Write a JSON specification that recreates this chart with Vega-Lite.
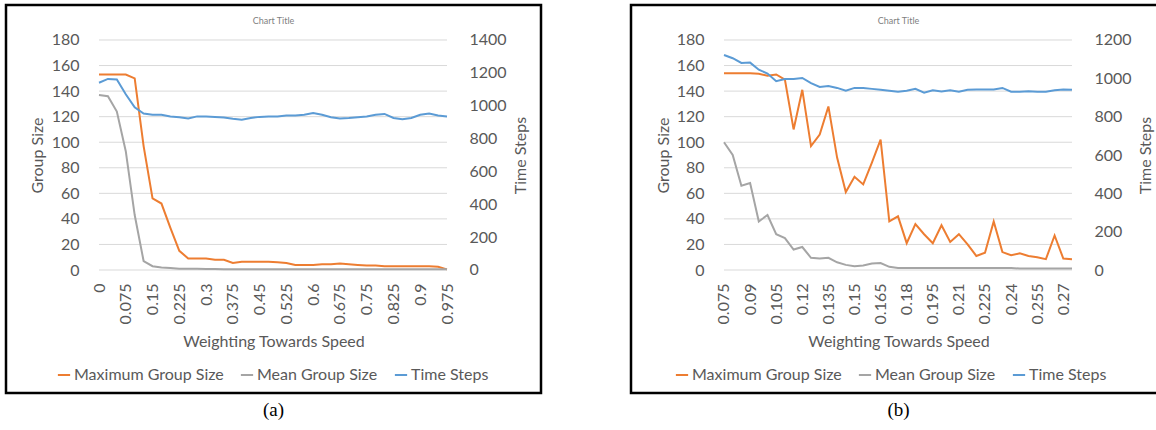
{
  "$schema": "https://vega.github.io/schema/vega-lite/v6.json",
  "background": "white",
  "padding": {"left": 4, "top": 3, "right": 0, "bottom": 0},
  "spacing": 86,
  "config": {
    "font": "Lato",
    "view": {"stroke": "#000000", "strokeWidth": 2.5},
    "axis": {"labelFont": "Lato", "titleFont": "Lato", "labelFontSize": 16, "titleFontSize": 16, "labelColor": "#595959", "titleColor": "#595959", "titleFontWeight": "normal", "grid": false, "domain": false, "ticks": false, "tickSize": 0, "labelPadding": 5},
    "legend": {"labelFont": "Lato", "labelFontSize": 16, "labelColor": "#595959", "padding": 0}
  },
  "datasets": {
    "a": [
      {"w": 0, "Maximum Group Size": 153, "Mean Group Size": 137, "Time Steps": 1140},
      {"w": 0.025, "Maximum Group Size": 153, "Mean Group Size": 136, "Time Steps": 1163},
      {"w": 0.05, "Maximum Group Size": 153, "Mean Group Size": 124, "Time Steps": 1160},
      {"w": 0.075, "Maximum Group Size": 153, "Mean Group Size": 93, "Time Steps": 1070},
      {"w": 0.1, "Maximum Group Size": 150, "Mean Group Size": 43, "Time Steps": 990},
      {"w": 0.125, "Maximum Group Size": 97, "Mean Group Size": 7, "Time Steps": 952},
      {"w": 0.15, "Maximum Group Size": 56, "Mean Group Size": 3, "Time Steps": 945},
      {"w": 0.175, "Maximum Group Size": 52, "Mean Group Size": 2, "Time Steps": 945},
      {"w": 0.2, "Maximum Group Size": 33, "Mean Group Size": 1.5, "Time Steps": 935},
      {"w": 0.225, "Maximum Group Size": 15, "Mean Group Size": 1, "Time Steps": 930},
      {"w": 0.25, "Maximum Group Size": 9, "Mean Group Size": 1, "Time Steps": 922},
      {"w": 0.275, "Maximum Group Size": 9, "Mean Group Size": 1, "Time Steps": 935},
      {"w": 0.3, "Maximum Group Size": 9, "Mean Group Size": 0.8, "Time Steps": 935},
      {"w": 0.325, "Maximum Group Size": 8, "Mean Group Size": 0.8, "Time Steps": 932},
      {"w": 0.35, "Maximum Group Size": 8, "Mean Group Size": 0.6, "Time Steps": 928},
      {"w": 0.375, "Maximum Group Size": 5.5, "Mean Group Size": 0.6, "Time Steps": 920},
      {"w": 0.4, "Maximum Group Size": 6.5, "Mean Group Size": 0.5, "Time Steps": 915},
      {"w": 0.425, "Maximum Group Size": 6.5, "Mean Group Size": 0.5, "Time Steps": 925},
      {"w": 0.45, "Maximum Group Size": 6.5, "Mean Group Size": 0.5, "Time Steps": 932},
      {"w": 0.475, "Maximum Group Size": 6.5, "Mean Group Size": 0.5, "Time Steps": 935},
      {"w": 0.5, "Maximum Group Size": 6, "Mean Group Size": 0.5, "Time Steps": 935},
      {"w": 0.525, "Maximum Group Size": 5.5, "Mean Group Size": 0.5, "Time Steps": 940},
      {"w": 0.55, "Maximum Group Size": 4, "Mean Group Size": 0.5, "Time Steps": 940},
      {"w": 0.575, "Maximum Group Size": 4, "Mean Group Size": 0.5, "Time Steps": 945},
      {"w": 0.6, "Maximum Group Size": 4, "Mean Group Size": 0.5, "Time Steps": 955},
      {"w": 0.625, "Maximum Group Size": 4.5, "Mean Group Size": 0.5, "Time Steps": 945},
      {"w": 0.65, "Maximum Group Size": 4.5, "Mean Group Size": 0.5, "Time Steps": 930},
      {"w": 0.675, "Maximum Group Size": 5, "Mean Group Size": 0.5, "Time Steps": 922},
      {"w": 0.7, "Maximum Group Size": 4.5, "Mean Group Size": 0.5, "Time Steps": 925},
      {"w": 0.725, "Maximum Group Size": 4, "Mean Group Size": 0.5, "Time Steps": 930},
      {"w": 0.75, "Maximum Group Size": 3.5, "Mean Group Size": 0.5, "Time Steps": 935},
      {"w": 0.775, "Maximum Group Size": 3.5, "Mean Group Size": 0.5, "Time Steps": 945},
      {"w": 0.8, "Maximum Group Size": 3, "Mean Group Size": 0.5, "Time Steps": 950},
      {"w": 0.825, "Maximum Group Size": 3, "Mean Group Size": 0.5, "Time Steps": 925},
      {"w": 0.85, "Maximum Group Size": 3, "Mean Group Size": 0.5, "Time Steps": 918},
      {"w": 0.875, "Maximum Group Size": 3, "Mean Group Size": 0.5, "Time Steps": 925},
      {"w": 0.9, "Maximum Group Size": 3, "Mean Group Size": 0.5, "Time Steps": 945},
      {"w": 0.925, "Maximum Group Size": 3, "Mean Group Size": 0.5, "Time Steps": 952},
      {"w": 0.95, "Maximum Group Size": 2.5, "Mean Group Size": 0.5, "Time Steps": 940},
      {"w": 0.975, "Maximum Group Size": 0.5, "Mean Group Size": 0.5, "Time Steps": 935}
    ],
    "b": [
      {"w": 0.075, "Maximum Group Size": 154, "Mean Group Size": 100, "Time Steps": 1122},
      {"w": 0.08, "Maximum Group Size": 154, "Mean Group Size": 90, "Time Steps": 1105},
      {"w": 0.085, "Maximum Group Size": 154, "Mean Group Size": 66, "Time Steps": 1080},
      {"w": 0.09, "Maximum Group Size": 154, "Mean Group Size": 68, "Time Steps": 1082},
      {"w": 0.095, "Maximum Group Size": 153.5, "Mean Group Size": 38, "Time Steps": 1045},
      {"w": 0.1, "Maximum Group Size": 152, "Mean Group Size": 43, "Time Steps": 1025},
      {"w": 0.105, "Maximum Group Size": 153, "Mean Group Size": 28, "Time Steps": 985},
      {"w": 0.11, "Maximum Group Size": 149, "Mean Group Size": 25, "Time Steps": 996},
      {"w": 0.115, "Maximum Group Size": 110, "Mean Group Size": 16, "Time Steps": 996},
      {"w": 0.12, "Maximum Group Size": 141, "Mean Group Size": 18, "Time Steps": 1002},
      {"w": 0.125, "Maximum Group Size": 97, "Mean Group Size": 9.5, "Time Steps": 975},
      {"w": 0.13, "Maximum Group Size": 106, "Mean Group Size": 9, "Time Steps": 955},
      {"w": 0.135, "Maximum Group Size": 128, "Mean Group Size": 9.5, "Time Steps": 960},
      {"w": 0.14, "Maximum Group Size": 88, "Mean Group Size": 6, "Time Steps": 950},
      {"w": 0.145, "Maximum Group Size": 61, "Mean Group Size": 4, "Time Steps": 935},
      {"w": 0.15, "Maximum Group Size": 73, "Mean Group Size": 3, "Time Steps": 950},
      {"w": 0.155, "Maximum Group Size": 67, "Mean Group Size": 3.5, "Time Steps": 950},
      {"w": 0.16, "Maximum Group Size": 84, "Mean Group Size": 5, "Time Steps": 945},
      {"w": 0.165, "Maximum Group Size": 102, "Mean Group Size": 5.5, "Time Steps": 940},
      {"w": 0.17, "Maximum Group Size": 38, "Mean Group Size": 2.5, "Time Steps": 935},
      {"w": 0.175, "Maximum Group Size": 42, "Mean Group Size": 1.5, "Time Steps": 930},
      {"w": 0.18, "Maximum Group Size": 21, "Mean Group Size": 1.5, "Time Steps": 935},
      {"w": 0.185, "Maximum Group Size": 36, "Mean Group Size": 1.5, "Time Steps": 945},
      {"w": 0.19, "Maximum Group Size": 28, "Mean Group Size": 1.5, "Time Steps": 925},
      {"w": 0.195, "Maximum Group Size": 21, "Mean Group Size": 1.5, "Time Steps": 938},
      {"w": 0.2, "Maximum Group Size": 35, "Mean Group Size": 1.5, "Time Steps": 932},
      {"w": 0.205, "Maximum Group Size": 22, "Mean Group Size": 1.5, "Time Steps": 938},
      {"w": 0.21, "Maximum Group Size": 28, "Mean Group Size": 1.5, "Time Steps": 930},
      {"w": 0.215, "Maximum Group Size": 20, "Mean Group Size": 1.5, "Time Steps": 940},
      {"w": 0.22, "Maximum Group Size": 11, "Mean Group Size": 1.5, "Time Steps": 942},
      {"w": 0.225, "Maximum Group Size": 13.5, "Mean Group Size": 1.5, "Time Steps": 942},
      {"w": 0.23, "Maximum Group Size": 38, "Mean Group Size": 1.5, "Time Steps": 942},
      {"w": 0.235, "Maximum Group Size": 14, "Mean Group Size": 1.5, "Time Steps": 950},
      {"w": 0.24, "Maximum Group Size": 11.5, "Mean Group Size": 1.5, "Time Steps": 930},
      {"w": 0.245, "Maximum Group Size": 13, "Mean Group Size": 1.2, "Time Steps": 930},
      {"w": 0.25, "Maximum Group Size": 11, "Mean Group Size": 1.2, "Time Steps": 933},
      {"w": 0.255, "Maximum Group Size": 10, "Mean Group Size": 1.2, "Time Steps": 930},
      {"w": 0.26, "Maximum Group Size": 8.5, "Mean Group Size": 1.2, "Time Steps": 930},
      {"w": 0.265, "Maximum Group Size": 27, "Mean Group Size": 1.2, "Time Steps": 938},
      {"w": 0.27, "Maximum Group Size": 9, "Mean Group Size": 1.2, "Time Steps": 942},
      {"w": 0.275, "Maximum Group Size": 8.5, "Mean Group Size": 1.2, "Time Steps": 940}
    ],
    "grid": [{"g": 0}, {"g": 20}, {"g": 40}, {"g": 60}, {"g": 80}, {"g": 100}, {"g": 120}, {"g": 140}, {"g": 160}, {"g": 180}]
  },
  "resolve": {"scale": {"color": "independent"}, "legend": {"color": "independent"}},
  "hconcat": [
    {
      "title": {"text": "(a)", "orient": "bottom", "anchor": "middle", "frame": "bounds", "font": "Liberation Serif", "fontSize": 19, "fontWeight": "normal", "color": "#000000", "offset": 7},
      "vconcat": [
        {
          "width": 535,
          "height": 388,
          "title": {"text": "Chart Title", "anchor": "middle", "frame": "group", "font": "Lato", "fontSize": 9, "fontWeight": "normal", "color": "#7f7f7f", "offset": -21},
          "resolve": {"scale": {"y": "independent"}},
          "layer": [
            {
              "data": {"name": "grid"},
              "mark": {"type": "rule", "color": "#d9d9d9", "strokeWidth": 1},
              "encoding": {
                "y": {"field": "g", "type": "quantitative", "scale": {"domain": [-96.26, 207.39], "nice": false, "zero": false}, "axis": null},
                "x": {"datum": 0, "type": "quantitative", "scale": {"domain": [-0.26056, 1.23836], "nice": false, "zero": false},
                      "axis": {"values": [0, 0.075, 0.15, 0.225, 0.3, 0.375, 0.45, 0.525, 0.6, 0.675, 0.75, 0.825, 0.9, 0.975], "format": ".3~f", "labelAngle": -90, "title": "Weighting Towards Speed", "offset": -115, "titlePadding": 10}},
                "x2": {"datum": 0.975}
              }
            },
            {
              "data": {"name": "a"},
              "transform": [{"fold": ["Maximum Group Size", "Mean Group Size"], "as": ["series", "value"]}],
              "mark": {"type": "line", "strokeWidth": 2},
              "encoding": {
                "x": {"field": "w", "type": "quantitative", "scale": {"domain": [-0.26056, 1.23836], "nice": false, "zero": false},
                      "axis": {"values": [0, 0.075, 0.15, 0.225, 0.3, 0.375, 0.45, 0.525, 0.6, 0.675, 0.75, 0.825, 0.9, 0.975], "format": ".3~f", "labelAngle": -90, "title": "Weighting Towards Speed", "offset": -115, "titlePadding": 10}},
                "y": {"field": "value", "type": "quantitative", "scale": {"domain": [-96.26, 207.39], "nice": false, "zero": false},
                      "axis": {"orient": "left", "values": [0, 20, 40, 60, 80, 100, 120, 140, 160, 180], "title": "Group Size", "offset": -78, "titleY": 150, "titlePadding": 6}},
                "color": {"field": "series", "type": "nominal",
                          "scale": {"domain": ["Maximum Group Size", "Mean Group Size", "Time Steps"], "range": ["#ED7D31", "#A5A5A5", "#5B9BD5"]},
                          "legend": {"orient": "none", "legendX": 50, "legendY": 362, "direction": "horizontal", "title": null, "symbolType": "stroke", "symbolSize": 150, "symbolStrokeWidth": 2, "columnPadding": 12, "labelOffset": 2,
                                     "encode": {"symbols": {"update": {"stroke": {"value": "#A5A5A5"}}}}}}
              }
            },
            {
              "data": {"name": "a"},
              "mark": {"type": "line", "strokeWidth": 2},
              "encoding": {
                "x": {"field": "w", "type": "quantitative", "scale": {"domain": [-0.26056, 1.23836], "nice": false, "zero": false},
                      "axis": {"values": [0, 0.075, 0.15, 0.225, 0.3, 0.375, 0.45, 0.525, 0.6, 0.675, 0.75, 0.825, 0.9, 0.975], "format": ".3~f", "labelAngle": -90, "title": "Weighting Towards Speed", "offset": -115, "titlePadding": 10}},
                "y": {"field": "Time Steps", "type": "quantitative", "scale": {"domain": [-748.7, 1613], "nice": false, "zero": false},
                      "axis": {"orient": "right", "values": [0, 200, 400, 600, 800, 1000, 1200, 1400], "format": "d", "title": "Time Steps", "offset": -77, "titleY": 150, "titleAngle": -90, "titleBaseline": "top", "titlePadding": 6}},
                "color": {"datum": "Time Steps", "type": "nominal",
                          "scale": {"domain": ["Maximum Group Size", "Mean Group Size", "Time Steps"], "range": ["#ED7D31", "#A5A5A5", "#5B9BD5"]}}
              }
            }
          ]
        }
      ]
    },
    {
      "title": {"text": "(b)", "orient": "bottom", "anchor": "middle", "frame": "bounds", "font": "Liberation Serif", "fontSize": 19, "fontWeight": "normal", "color": "#000000", "offset": 7},
      "vconcat": [
        {
          "width": 535,
          "height": 388,
          "title": {"text": "Chart Title", "anchor": "middle", "frame": "group", "font": "Lato", "fontSize": 9, "fontWeight": "normal", "color": "#7f7f7f", "offset": -21},
          "resolve": {"scale": {"y": "independent"}},
          "layer": [
            {
              "data": {"name": "grid"},
              "mark": {"type": "rule", "color": "#d9d9d9", "strokeWidth": 1},
              "encoding": {
                "y": {"field": "g", "type": "quantitative", "scale": {"domain": [-96.26, 207.39], "nice": false, "zero": false}, "axis": null},
                "x": {"datum": 0.075, "type": "quantitative", "scale": {"domain": [0.021552, 0.329023], "nice": false, "zero": false},
                      "axis": {"values": [0.075, 0.09, 0.105, 0.12, 0.135, 0.15, 0.165, 0.18, 0.195, 0.21, 0.225, 0.24, 0.255, 0.27], "format": ".3~f", "labelAngle": -90, "title": "Weighting Towards Speed", "offset": -115, "titlePadding": 10}},
                "x2": {"datum": 0.275}
              }
            },
            {
              "data": {"name": "b"},
              "transform": [{"fold": ["Maximum Group Size", "Mean Group Size"], "as": ["series", "value"]}],
              "mark": {"type": "line", "strokeWidth": 2},
              "encoding": {
                "x": {"field": "w", "type": "quantitative", "scale": {"domain": [0.021552, 0.329023], "nice": false, "zero": false},
                      "axis": {"values": [0.075, 0.09, 0.105, 0.12, 0.135, 0.15, 0.165, 0.18, 0.195, 0.21, 0.225, 0.24, 0.255, 0.27], "format": ".3~f", "labelAngle": -90, "title": "Weighting Towards Speed", "offset": -115, "titlePadding": 10}},
                "y": {"field": "value", "type": "quantitative", "scale": {"domain": [-96.26, 207.39], "nice": false, "zero": false},
                      "axis": {"orient": "left", "values": [0, 20, 40, 60, 80, 100, 120, 140, 160, 180], "title": "Group Size", "offset": -78, "titleY": 150, "titlePadding": 5}},
                "color": {"field": "series", "type": "nominal",
                          "scale": {"domain": ["Maximum Group Size", "Mean Group Size", "Time Steps"], "range": ["#ED7D31", "#A5A5A5", "#5B9BD5"]},
                          "legend": {"orient": "none", "legendX": 43, "legendY": 362, "direction": "horizontal", "title": null, "symbolType": "stroke", "symbolSize": 150, "symbolStrokeWidth": 2, "columnPadding": 12, "labelOffset": 2}}
              }
            },
            {
              "data": {"name": "b"},
              "mark": {"type": "line", "strokeWidth": 2},
              "encoding": {
                "x": {"field": "w", "type": "quantitative", "scale": {"domain": [0.021552, 0.329023], "nice": false, "zero": false},
                      "axis": {"values": [0.075, 0.09, 0.105, 0.12, 0.135, 0.15, 0.165, 0.18, 0.195, 0.21, 0.225, 0.24, 0.255, 0.27], "format": ".3~f", "labelAngle": -90, "title": "Weighting Towards Speed", "offset": -115, "titlePadding": 10}},
                "y": {"field": "Time Steps", "type": "quantitative", "scale": {"domain": [-641.7, 1382.6], "nice": false, "zero": false},
                      "axis": {"orient": "right", "values": [0, 200, 400, 600, 800, 1000, 1200], "format": "d", "title": "Time Steps", "offset": -77, "titleY": 150, "titleAngle": -90, "titleBaseline": "top", "titlePadding": 6}},
                "color": {"datum": "Time Steps", "type": "nominal",
                          "scale": {"domain": ["Maximum Group Size", "Mean Group Size", "Time Steps"], "range": ["#ED7D31", "#A5A5A5", "#5B9BD5"]}}
              }
            }
          ]
        }
      ]
    }
  ]
}
